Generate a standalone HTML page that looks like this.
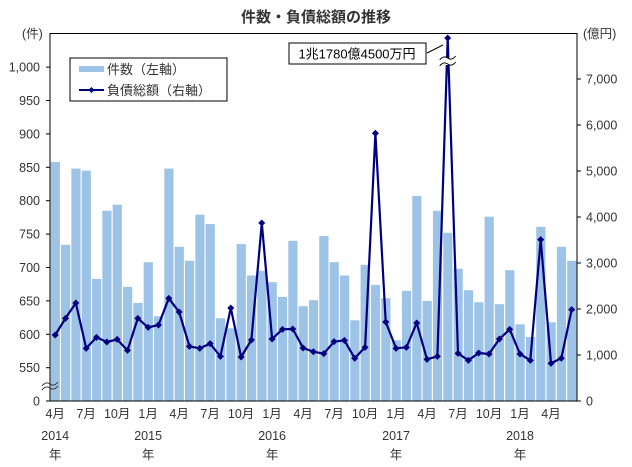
<!DOCTYPE html>
<html><head><meta charset="utf-8">
<style>
html,body{margin:0;padding:0;background:#fff;}
svg{display:block;font-family:"Liberation Sans","Noto Sans CJK JP",sans-serif;}
</style></head>
<body>
<svg id="c" width="632" height="467" viewBox="0 0 632 467" xmlns="http://www.w3.org/2000/svg">
<text x="316" y="22" text-anchor="middle" font-size="15" font-weight="bold" fill="#333">件数・負債総額の推移</text>
<g id="bars" fill="#9dc3e6"></g>
<line x1="50" y1="33.5" x2="577" y2="33.5" stroke="#000" stroke-width="1"/>
<line x1="50" y1="33" x2="50" y2="401" stroke="#000"/>
<line x1="577" y1="33" x2="577" y2="401" stroke="#000"/>
<line x1="50" y1="401" x2="577" y2="401" stroke="#000"/>
<g id="ticks" stroke="#000"></g>
<g id="labels" font-size="12.5" fill="#333"></g>
<g id="line"></g>
<path d="M42 386 q4 -5 8 -2 t8 -2 M42 390 q4 -5 8 -2 t8 -2" stroke="#333" fill="none"/>
<rect x="42" y="385" width="16" height="3" fill="#fff" opacity="0"/>
<rect x="70" y="58" width="157" height="43" fill="#fff" stroke="#000"/>
<rect x="79" y="66" width="25" height="6" fill="#9dc3e6"/>
<text x="107" y="74" font-size="13" fill="#333">件数（左軸）</text>
<line x1="79" y1="90" x2="104" y2="90" stroke="#00007f" stroke-width="2"/>
<path d="M91.5 87 L94.5 90 L91.5 93 L88.5 90Z" fill="#00007f"/>
<text x="107" y="95" font-size="13" fill="#333">負債総額（右軸）</text>
<rect x="289" y="43" width="137" height="21" fill="#fff" stroke="#000"/>
<text x="357" y="58.5" text-anchor="middle" font-size="13" fill="#000">1兆1780億4500万円</text>
<line x1="427" y1="53" x2="443" y2="45" stroke="#000"/>
<text x="22" y="38" font-size="12.5" fill="#333">(件)</text>
<text x="583" y="38" font-size="12.5" fill="#333">(億円)</text>
</svg>
<script>
var cnt=[858,734,848,845,683,785,794,671,647,708,627,848,731,710,779,765,624,609,735,688,695,678,656,740,642,651,747,708,688,621,704,674,654,591,665,807,650,785,752,698,666,648,776,645,696,615,596,761,618,731,710];
var amt=[1435,1797,2130,1145,1384,1283,1340,1101,1797,1601,1652,2232,1935,1188,1145,1246,971,2022,957,1326,3870,1348,1558,1565,1152,1072,1029,1290,1319,928,1167,5820,1717,1145,1167,1696,906,971,7890,1036,884,1043,1022,1348,1558,1022,884,3507,819,928,1986];
var NS="http://www.w3.org/2000/svg";
function el(p,t,a,txt){var e=document.createElementNS(NS,t);for(var k in a)e.setAttribute(k,a[k]);if(txt!=null)e.textContent=txt;document.getElementById(p).appendChild(e);return e;}
var slot=10.33;
function cx(i){return 50+slot*i+slot/2;}
function yl(v){return 334.3-(v-600)*0.668;}
function yr(v){return 401-v*0.046;}
for(var i=0;i<cnt.length;i++){var y=yl(cnt[i]);el("bars","rect",{x:(50.7+slot*i).toFixed(2),y:y.toFixed(1),width:9.2,height:(401-y).toFixed(1)});}
// left ticks
var lt=[[0,401],[550,367.7]];for(var v=600;v<=1000;v+=50)lt.push([v,yl(v)]);
lt.forEach(function(t){el("ticks","line",{x1:46,x2:50,y1:t[1],y2:t[1]});el("labels","text",{x:40,y:t[1]+4.5,"text-anchor":"end"},t[0]>=1000?"1,000":String(t[0]));});
for(var v=0;v<=7000;v+=1000){var y=yr(v);el("ticks","line",{x1:577,x2:581,y1:y,y2:y});el("labels","text",{x:586,y:y+4.5},v==0?"0":(v/1000)+",000");}
// x labels
var months=["4月","7月","10月","1月"];
for(var i=0;i<cnt.length;i+=3){var m=(3+i)%12+1;var lab=m+"月";el("labels","text",{x:cx(i),y:418,"text-anchor":"middle"},lab);
 if(i==0||m==1){var yr0=2014+Math.floor((i+3)/12);el("labels","text",{x:cx(i),y:440,"text-anchor":"middle"},String(yr0));el("labels","text",{x:cx(i),y:459,"text-anchor":"middle"},"年");}}
// line
var pts=amt.map(function(v,i){return cx(i).toFixed(1)+","+yr(v).toFixed(1);}).join(" ");
el("line","polyline",{points:pts,fill:"none",stroke:"#00007f","stroke-width":2.2,"stroke-linejoin":"round"});
amt.forEach(function(v,i){var x=cx(i),y=yr(v);el("line","path",{d:"M"+x+" "+(y-3.5)+" L"+(x+3.5)+" "+y+" L"+x+" "+(y+3.5)+" L"+(x-3.5)+" "+y+"Z",fill:"#00007f"});});
// break on peak
var bx=cx(38);
el("line","rect",{x:bx-8,y:58,width:16,height:7,fill:"#fff"});
el("line","path",{d:"M"+(bx-8)+" 60 q4 -5 8 -2 t8 -2 M"+(bx-8)+" 66 q4 -5 8 -2 t8 -2",stroke:"#000",fill:"none"});
</script>
</body></html>
